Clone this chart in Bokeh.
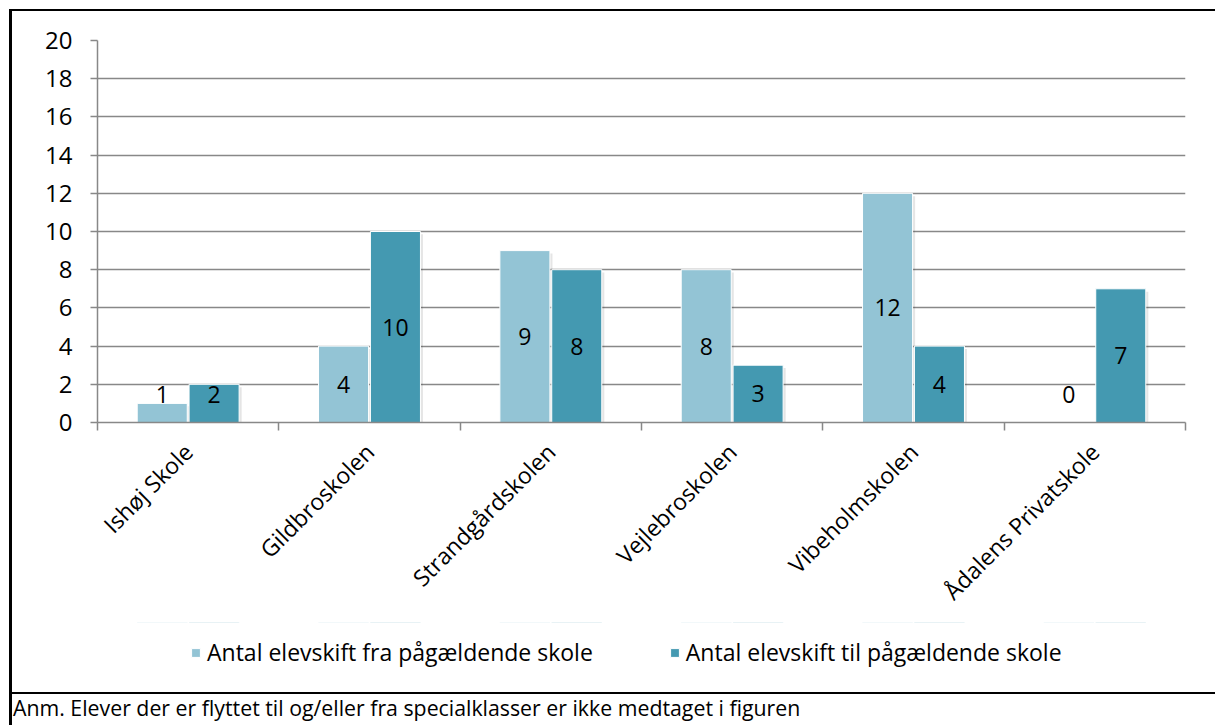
from math import pi
from bokeh.plotting import figure
from bokeh.layouts import column
from bokeh.models import (Range1d, LinearAxis, FixedTicker, Legend, LegendItem,
                          ColumnDataSource, Div)
from bokeh.core.properties import value
from bokeh.embed import file_html
from bokeh.resources import INLINE

schools = ["Ishøj Skole", "Gildbroskolen", "Strandgårdskolen", "Vejlebroskolen",
           "Vibeholmskolen", "Ådalens Privatskole"]
fra = [1, 4, 9, 8, 12, 0]
til = [2, 10, 8, 3, 4, 7]
y_ticks = [0, 2, 4, 6, 8, 10, 12, 14, 16, 18, 20]
series_names = ["Antal elevskift fra pågældende skole", "Antal elevskift til pågældende skole"]
note = "Anm. Elever der er flyttet til og/eller fra specialklasser er ikke medtaget i figuren"

FONT = "Open Sans"
LIGHT = "#93C4D5"
DARK = "#4499B1"
GRID = "#888888"

n = len(schools)
centers = [i + 0.5 for i in range(n)]
bounds = [float(i) for i in range(n + 1)]
off = 0.143
w = 0.276

src = ColumnDataSource(dict(
    xc=centers, fra=fra, til=til,
    x_fra=[c - off for c in centers], x_til=[c + off for c in centers],
    fra_y=[max(v / 2, 1.45) for v in fra],
    til_y=[max(v / 2, 1.45) for v in til],
    fra_t=[str(v) for v in fra], til_t=[str(v) for v in til],
    fra_sh=[max(v - 0.15, 0) for v in fra], til_sh=[max(v - 0.15, 0) for v in til],
    xs_fra=[c - off + 0.014 for c in centers], xs_til=[c + off + 0.014 for c in centers],
))

p = figure(width=1203, height=611, x_range=Range1d(0, n),
           y_range=Range1d(0, 20), output_backend="svg", toolbar_location=None,
           x_axis_location=None, min_border_left=85, min_border_right=30,
           min_border_top=29, min_border_bottom=200)
p.outline_line_color = None
p.xgrid.grid_line_color = None
p.ygrid.grid_line_color = GRID
p.ygrid.grid_line_width = 1.5
p.ygrid.ticker = FixedTicker(ticks=y_ticks)

# y axis
ya = p.yaxis[0]
ya.ticker = FixedTicker(ticks=y_ticks)
ya.axis_line_color = GRID
ya.axis_line_width = 1.5
ya.major_tick_line_color = GRID
ya.major_tick_line_width = 1.5
ya.major_tick_out = 7
ya.major_tick_in = 0
ya.minor_tick_line_color = None
ya.major_label_text_font = FONT
ya.major_label_text_font_size = "24px"
ya.major_label_text_color = "#000000"
ya.major_label_standoff = 18

# x axis: ticks at category boundaries, labels at centres
xa = LinearAxis(ticker=FixedTicker(ticks=centers, minor_ticks=bounds),
                major_label_overrides={c: s for c, s in zip(centers, schools)},
                major_label_orientation=pi / 4)
xa.axis_line_color = GRID
xa.axis_line_width = 1.5
xa.major_tick_line_color = None
xa.minor_tick_line_color = GRID
xa.minor_tick_line_width = 1.5
xa.minor_tick_out = 8
xa.minor_tick_in = 0
xa.major_label_text_font = FONT
xa.major_label_text_font_size = "23px"
xa.major_label_text_color = "#000000"
xa.major_label_standoff = 17
p.add_layout(xa, "below")

# soft shadows
p.vbar(x="xs_fra", top="fra_sh", width=w, source=src,
       fill_color="#000000", fill_alpha=0.10, line_color=None)
p.vbar(x="xs_til", top="til_sh", width=w, source=src,
       fill_color="#000000", fill_alpha=0.10, line_color=None)
p.vbar(x="x_fra", top="fra", width=w, source=src,
       fill_color=LIGHT, line_color="white", line_width=1)
p.vbar(x="x_til", top="til", width=w, source=src,
       fill_color=DARK, line_color="white", line_width=1)

p.text(x="x_fra", y="fra_y", text="fra_t", source=src,
       text_font=value(FONT), text_font_size="23px", text_align="center",
       text_baseline="middle", text_color="#000000")
p.text(x="x_til", y="til_y", text="til_t", source=src,
       text_font=value(FONT), text_font_size="23px", text_align="center",
       text_baseline="middle", text_color="#000000")

# legend strip: its own small figure (frame aligned with the chart's frame) so it can sit
# below the rotated axis labels; the series bars there lie far outside its visible y range.
lf = figure(width=1203, height=70, x_range=Range1d(0, n), y_range=Range1d(-1000, -999),
            output_backend="svg", toolbar_location=None, x_axis_location=None,
            y_axis_location=None, min_border=0)
lf.outline_line_color = None
lf.grid.grid_line_color = None
lr1 = lf.vbar(x="x_fra", top="fra", width=w, source=src, fill_color=LIGHT, line_color="white")
lr2 = lf.vbar(x="x_til", top="til", width=w, source=src, fill_color=DARK, line_color="white")
legend = Legend(items=[LegendItem(label=series_names[0], renderers=[lr1], index=0),
                       LegendItem(label=series_names[1], renderers=[lr2], index=0)],
                orientation="horizontal", location=(93, 24),
                glyph_width=11, glyph_height=11, label_standoff=6, spacing=76,
                label_height=30, padding=0, margin=0, border_line_color=None,
                background_fill_alpha=0,
                label_text_font=FONT, label_text_font_size="23px", label_text_color="#000000")
lf.add_layout(legend, "center")

note_div = Div(text=note, width=1203, height=33, margin=0,
               styles={"border-top": "2px solid black", "font-family": "Open Sans",
                       "font-size": "21.3px", "color": "#000000", "padding-left": "1px",
                       "line-height": "28px"})

layout = column(p, lf, note_div, spacing=0, margin=(9, 0, 0, 9),
                styles={"border-left": "3px solid black", "border-top": "2px solid black"})

open("out.html", "w").write(file_html(layout, INLINE))
